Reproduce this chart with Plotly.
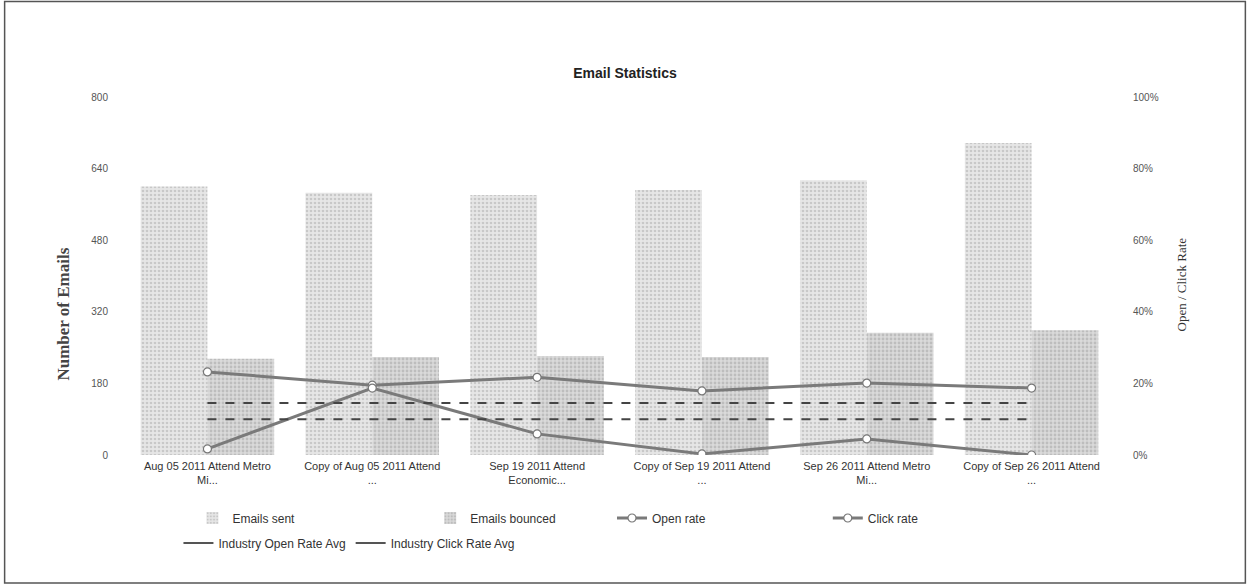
import plotly.graph_objects as go

categories = [
    "Aug 05 2011 Attend Metro<br>Mi...",
    "Copy of Aug 05 2011 Attend<br>...",
    "Sep 19 2011 Attend<br>Economic...",
    "Copy of Sep 19 2011 Attend<br>...",
    "Sep 26 2011 Attend Metro<br>Mi...",
    "Copy of Sep 26 2011 Attend<br>...",
]
emails_sent = [600, 586, 581, 592, 614, 697]
emails_bounced = [215, 219, 221, 219, 273, 279]
open_rate = [23.2, 19.5, 21.7, 17.9, 20.1, 18.7]
click_rate = [1.7, 18.7, 5.9, 0.3, 4.5, 0.0]
industry_open_avg = [14.5] * 6
industry_click_avg = [10.0] * 6

left_tickvals = [0, 160, 320, 480, 640, 800]
left_ticktext = ["0", "180", "320", "480", "640", "800"]
right_tickvals = [0, 20, 40, 60, 80, 100]
right_ticktext = ["0%", "20%", "40%", "60%", "80%", "100%"]

W, H = 1248, 584
L, R, T, B = 124.5, 133.5, 97, 129
PW, PH = W - L - R, H - T - B


def px(x):
    return (x - L) / PW


def py(y):
    return (H - B - y) / PH


fig = go.Figure()
fig.add_trace(go.Bar(
    x=categories, y=emails_sent, name="Emails sent",
    marker=dict(color="#e0e0e0", line=dict(width=0),
                pattern=dict(shape=".", fgcolor="#aaaaaa", bgcolor="#e6e6e6", size=4, solidity=0.35)),
    legend="legend",
))
fig.add_trace(go.Bar(
    x=categories, y=emails_bounced, name="Emails bounced",
    marker=dict(color="#d4d4d4", line=dict(width=0),
                pattern=dict(shape=".", fgcolor="#a0a0a0", bgcolor="#dadada", size=4, solidity=0.4)),
    legend="legend2",
))
line_col = "#7a7a7a"
fig.add_trace(go.Scatter(
    x=categories, y=open_rate, name="Open rate", yaxis="y2", mode="lines+markers",
    line=dict(color=line_col, width=3),
    marker=dict(symbol="circle", size=8, color="white", line=dict(color="#777", width=1.2)),
    legend="legend3",
))
fig.add_trace(go.Scatter(
    x=categories, y=click_rate, name="Click rate", yaxis="y2", mode="lines+markers",
    line=dict(color=line_col, width=3),
    marker=dict(symbol="circle", size=8, color="white", line=dict(color="#777", width=1.2)),
    legend="legend4",
))
fig.add_trace(go.Scatter(
    x=categories, y=industry_open_avg, name="Industry Open Rate Avg", yaxis="y2", mode="lines",
    line=dict(color="#444", width=2, dash="dash"), showlegend=False,
))
fig.add_trace(go.Scatter(
    x=categories, y=industry_click_avg, name="Industry Click Rate Avg", yaxis="y2", mode="lines",
    line=dict(color="#444", width=2, dash="dash"), showlegend=False,
))
# legend entries (solid short line symbol as in the reference)
for nm in ["Industry Open Rate Avg", "Industry Click Rate Avg"]:
    fig.add_trace(go.Scatter(
        x=[None], y=[None], name=nm, yaxis="y2", mode="lines",
        line=dict(color="#555", width=2), legend="legend5", hoverinfo="skip",
    ))

leg_font = dict(family="Liberation Sans, Arial", size=12, color="#333")


def leg(xpix, ypix, orient="v"):
    return dict(x=px(xpix), y=py(ypix), xanchor="left", yanchor="middle",
                orientation=orient, font=leg_font, bgcolor="rgba(0,0,0,0)",
                itemclick=False, traceorder="normal")


fig.update_layout(
    width=W, height=H,
    margin=dict(l=L, r=R, t=T, b=B, autoexpand=False),
    paper_bgcolor="white", plot_bgcolor="white",
    barmode="group", bargap=0.19, bargroupgap=0,
    title=dict(text="<b>Email Statistics</b>", x=px(625), xref="paper", xanchor="center",
               y=1 - 73 / H, yref="container", yanchor="middle",
               font=dict(family="Liberation Sans, Arial", size=14, color="#222")),
    xaxis=dict(showgrid=False, zeroline=False, showline=False, ticklabelstandoff=3,
               tickfont=dict(family="Liberation Sans, Arial", size=11, color="#333")),
    yaxis=dict(range=[0, 800], tickvals=left_tickvals, ticktext=left_ticktext,
               showgrid=False, zeroline=False, showline=False, ticklabelstandoff=16,
               tickfont=dict(family="Liberation Sans, Arial", size=10, color="#555")),
    yaxis2=dict(range=[0, 100], tickvals=right_tickvals, ticktext=right_ticktext,
                overlaying="y", side="right",
                showgrid=False, zeroline=False, showline=False, ticklabelstandoff=18,
                tickfont=dict(family="Liberation Sans, Arial", size=10, color="#555")),
    showlegend=True,
    legend=leg(192, 518),
    legend2=leg(430, 518),
    legend3=leg(612, 518),
    legend4=leg(828, 518),
    legend5=leg(178, 543, "h"),
    annotations=[
        dict(text="<b>Number of Emails</b>", x=px(62), y=py(314), xref="paper", yref="paper",
             textangle=-90, showarrow=False, xanchor="center", yanchor="middle",
             font=dict(family="Liberation Serif, Times New Roman", size=17, color="#444")),
        dict(text="Open / Click Rate", x=px(1182), y=py(284), xref="paper", yref="paper",
             textangle=-90, showarrow=False, xanchor="center", yanchor="middle",
             font=dict(family="Liberation Serif, Times New Roman", size=13, color="#333")),
    ],
    shapes=[
        dict(type="rect", xref="paper", yref="paper", x0=px(4), x1=px(1246), y0=py(583), y1=py(1.5),
             line=dict(color="#555", width=1.5), fillcolor="rgba(0,0,0,0)", layer="below"),
    ],
)

fig.write_html("out.html", config={"displayModeBar": False},
               post_script="document.body.style.margin='0';document.body.style.overflow='hidden';")
